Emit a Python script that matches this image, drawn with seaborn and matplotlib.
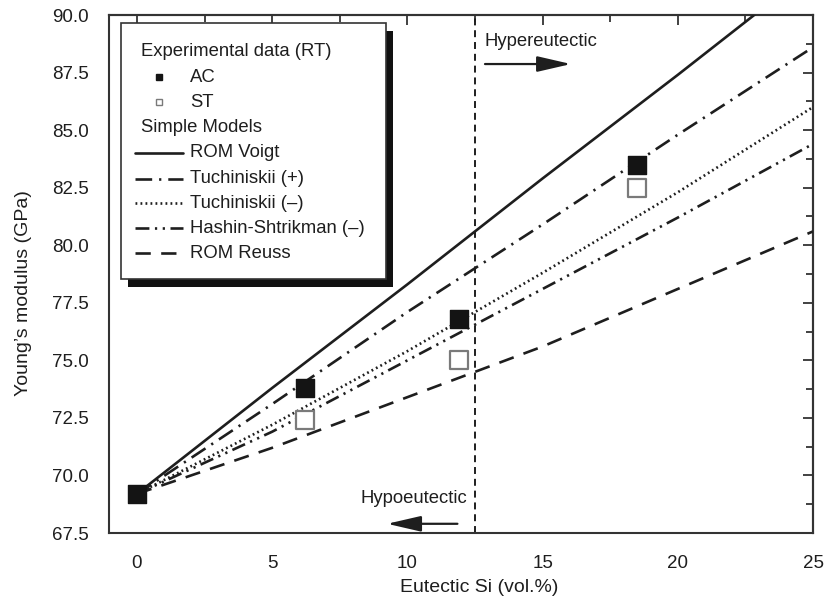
import matplotlib
matplotlib.use("Agg")
import matplotlib.pyplot as plt
import seaborn as sns
import numpy as np
import pandas as pd
from matplotlib.patches import Rectangle
from matplotlib.lines import Line2D

# ---------------- data ----------------
x_model = [0, 5, 10, 15, 20, 25]
rom_voigt = [69.2, 73.8, 78.3, 82.9, 87.4, 92.0]
tuch_plus = [69.2, 73.1, 77.1, 80.9, 84.8, 88.6]
tuch_minus = [69.2, 72.2, 75.4, 78.8, 82.3, 86.0]
hashin_minus = [69.2, 71.9, 75.0, 78.1, 81.2, 84.4]
rom_reuss = [69.2, 71.2, 73.4, 75.6, 78.1, 80.6]

ac_x = [0, 6.2, 11.9, 18.5]
ac_y = [69.2, 73.8, 76.8, 83.5]
st_x = [6.2, 11.9, 18.5]
st_y = [72.4, 75.0, 82.5]

eutectic_x = 12.5
x_ticks = [0, 5, 10, 15, 20, 25]
y_ticks = [67.5, 70.0, 72.5, 75.0, 77.5, 80.0, 82.5, 85.0, 87.5, 90.0]

legend_labels = ["ROM Voigt", "Tuchiniskii (+)", "Tuchiniskii (\u2013)",
                 "Hashin-Shtrikman (\u2013)", "ROM Reuss"]

# ---------------- style ----------------
sns.set_theme(style="white")
plt.rcParams["font.family"] = ["Liberation Sans", "DejaVu Sans"]
plt.rcParams["lines.scale_dashes"] = False
TXT = "#1e1e1e"
LC = "#1e1e1e"
SP = "#333333"

styles = {
    "ROM Voigt": dict(linestyle="-", lw=1.9),
    "Tuchiniskii (+)": dict(linestyle=(0, (12, 5, 1.6, 5)), lw=1.9),
    "Tuchiniskii (\u2013)": dict(linestyle=(0, (1.3, 2.3)), lw=1.9),
    "Hashin-Shtrikman (\u2013)": dict(linestyle=(0, (10, 4, 1.6, 4, 1.6, 4)), lw=1.9),
    "ROM Reuss": dict(linestyle=(0, (11, 7.5)), lw=1.9),
}
series = [rom_voigt, tuch_plus, tuch_minus, hashin_minus, rom_reuss]

fig = plt.figure(figsize=(8.24, 6.04), dpi=100)
ax = fig.add_axes([109 / 824, (604 - 533) / 604, 704 / 824, 518 / 604])

for lab, yv in zip(legend_labels, series):
    df = pd.DataFrame({"x": x_model, "y": yv})
    st = styles[lab]
    sns.lineplot(data=df, x="x", y="y", ax=ax, color=LC, lw=st["lw"],
                 linestyle=st["linestyle"], legend=False, zorder=3)

# eutectic boundary
ax.axvline(eutectic_x, color=LC, lw=1.4, linestyle=(0, (5, 3.5)), zorder=2)

# experimental points
sns.scatterplot(x=st_x, y=st_y, ax=ax, marker="s", s=150, color="white",
                edgecolor="#7a7a7a", linewidth=1.6, zorder=4, legend=False)
sns.scatterplot(x=ac_x, y=ac_y, ax=ax, marker="s", s=150, color="#141414",
                edgecolor="#141414", linewidth=1.0, zorder=5, legend=False)

ax.set_xlim(-1.035, 25)
ax.set_ylim(67.5, 90)
ax.set_xticks(x_ticks)
ax.set_yticks(y_ticks)
ax.set_xticks(np.arange(2.5, 25, 5), minor=True)
ax.set_yticks(np.arange(68.75, 90, 2.5), minor=True)
ax.set_yticklabels([f"{v:.1f}" for v in y_ticks])
ax.set_xticklabels([str(v) for v in x_ticks])

ax.tick_params(axis="x", which="major", direction="out", length=7.2, width=1.3,
               color=SP, labelsize=13.5, labelcolor=TXT, pad=9)
ax.tick_params(axis="x", which="minor", direction="out", length=4.3, width=1.3, color=SP)
ax.tick_params(axis="y", which="major", direction="out", length=8.5, width=1.3,
               color=SP, labelsize=13.5, labelcolor=TXT, pad=6)
ax.tick_params(axis="y", which="minor", direction="out", length=4.3, width=1.3, color=SP)

for s in ax.spines.values():
    s.set_color(SP)
    s.set_linewidth(1.5)

# top & right ticks pointing inward
secx = ax.secondary_xaxis("top")
secx.set_xticks(x_ticks)
secx.set_xticks(np.arange(2.5, 25, 5), minor=True)
secx.tick_params(which="major", direction="in", length=7, width=1.3, color=SP, labeltop=False)
secx.tick_params(which="minor", direction="in", length=5, width=1.3, color=SP)
secx.spines["top"].set_color(SP)
secx.spines["top"].set_linewidth(1.5)
secy = ax.secondary_yaxis("right")
secy.set_yticks(y_ticks)
secy.set_yticks(np.arange(68.75, 90, 2.5), minor=True)
secy.tick_params(which="major", direction="in", length=7, width=1.3, color=SP, labelright=False)
secy.tick_params(which="minor", direction="in", length=5, width=1.3, color=SP)
secy.spines["right"].set_color(SP)
secy.spines["right"].set_linewidth(1.5)

ax.set_xlabel("Eutectic Si (vol.%)", fontsize=14, color=TXT)
ax.set_ylabel("Young\u2019s modulus (GPa)", fontsize=14, color=TXT)
ax.xaxis.set_label_coords(0.5256, -0.088)
ax.yaxis.set_label_coords(-0.110, 0.463)

# annotations
ax.text(12.87, 88.83, "Hypereutectic", fontsize=13.3, color=TXT, ha="left", va="center")
ax.annotate("", xy=(16.05, 87.87), xytext=(12.87, 87.87),
            arrowprops=dict(arrowstyle="-|>,head_length=1.3,head_width=0.3",
                            color=LC, lw=1.6, mutation_scale=16, shrinkA=0, shrinkB=0))
ax.text(12.2, 69.0, "Hypoeutectic", fontsize=13.3, color=TXT, ha="right", va="center")
ax.annotate("", xy=(9.25, 67.9), xytext=(11.85, 67.9),
            arrowprops=dict(arrowstyle="-|>,head_length=1.3,head_width=0.3",
                            color=LC, lw=1.6, mutation_scale=16, shrinkA=0, shrinkB=0))

# legend box (drawn manually to match the layout)
bx0, by0, bw, bh = 0.017, 0.490, 0.376, 0.495
dx, dy = 0.0105, -0.0155
ax.add_patch(Rectangle((bx0 + dx, by0 + dy), bw, bh, transform=ax.transAxes,
                       facecolor="#111111", edgecolor="none", zorder=6, clip_on=False))
ax.add_patch(Rectangle((bx0, by0), bw, bh, transform=ax.transAxes,
                       facecolor="white", edgecolor=SP, lw=1.2, zorder=7, clip_on=False))

fs_leg = 13.3
hx = 0.0455
lx = 0.115
mx = 0.071
ax.text(hx, 0.9286, "Experimental data (RT)", transform=ax.transAxes, fontsize=fs_leg,
        color=TXT, va="center", ha="left", zorder=8)
ax.add_line(Line2D([mx], [0.8803], transform=ax.transAxes, marker="s", markersize=5,
                   color="#141414", mec="#141414", ls="none", zorder=8))
ax.text(lx, 0.8803, "AC", transform=ax.transAxes, fontsize=fs_leg, color=TXT,
        va="center", ha="left", zorder=8)
ax.add_line(Line2D([mx], [0.832], transform=ax.transAxes, marker="s", markersize=5,
                   mfc="white", mec="#7a7a7a", mew=1.0, ls="none", zorder=8))
ax.text(lx, 0.832, "ST", transform=ax.transAxes, fontsize=fs_leg, color=TXT,
        va="center", ha="left", zorder=8)
ax.text(hx, 0.782, "Simple Models", transform=ax.transAxes, fontsize=fs_leg, color=TXT,
        va="center", ha="left", zorder=8)
rows = [0.7336, 0.6834, 0.637, 0.5888, 0.5405]
for lab, ry in zip(legend_labels, rows):
    st = styles[lab]
    ax.add_line(Line2D([0.037, 0.105], [ry, ry], transform=ax.transAxes, color=LC,
                       lw=st["lw"], linestyle=st["linestyle"], zorder=8))
    ax.text(lx, ry, lab, transform=ax.transAxes, fontsize=fs_leg, color=TXT,
            va="center", ha="left", zorder=8)

fig.savefig("out.png", dpi=100)
